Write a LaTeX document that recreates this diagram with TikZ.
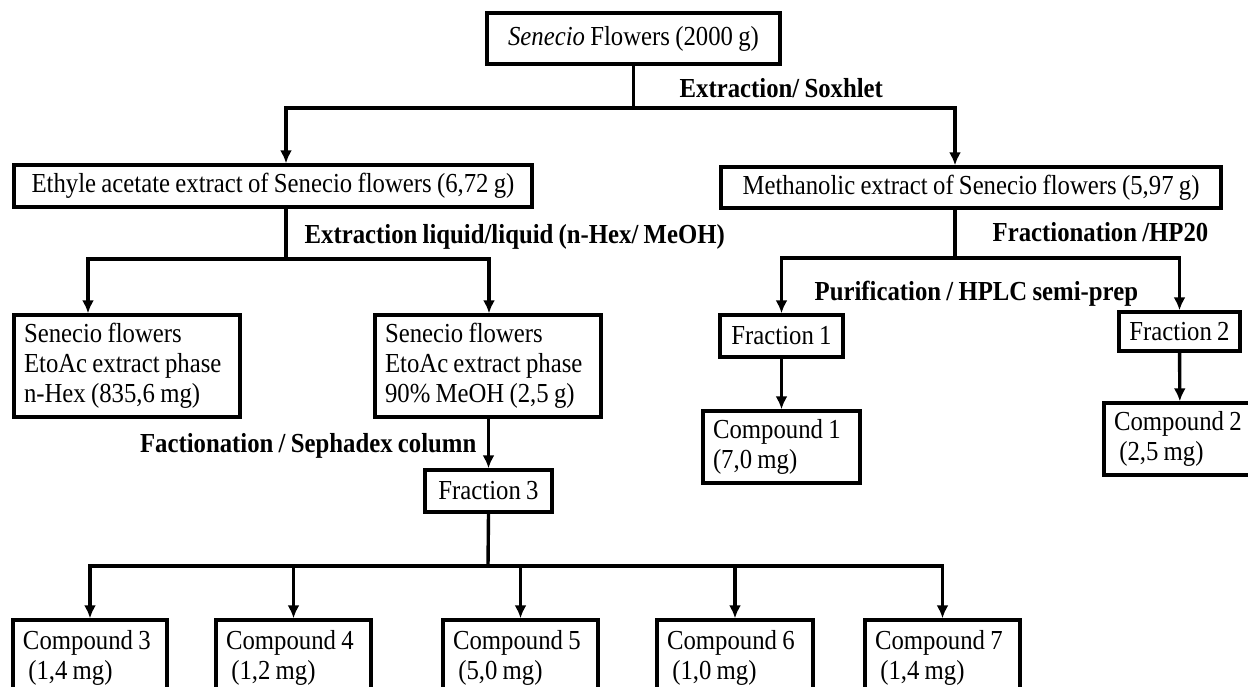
\documentclass[tikz,border=0pt]{standalone}
\usepackage{fontspec}
\setmainfont{Liberation Serif}[FakeStretch=0.9, WordSpace=0.85]
\usetikzlibrary{arrows.meta}

\begin{document}
\begin{tikzpicture}[x=1pt, y=-1pt, line width=3.4pt, >={Latex[length=13pt,width=12pt]},
        box/.style={draw, inner xsep=10pt, inner ysep=0pt, font=\fontsize{27.5}{30}\selectfont},
        lbox/.style={box, align=flush left},
        step label/.style={inner sep=0pt, font=\fontsize{27.5}{30}\selectfont\bfseries}]
    \useasboundingbox (0,0) rectangle (1248,686);
    \clip (0,0) rectangle (1248,686);

    % extracts
    \node[box, minimum width=293pt, minimum height=51pt] (flw) at (633.5,38.5) {\textit{Senecio} Flowers (2000 g)};
    \node[box, minimum width=518pt, minimum height=42pt] (eth) at (273,186) {Ethyle acetate extract of Senecio flowers (6,72 g)};
    \node[box, minimum width=500pt, minimum height=41pt] (meth) at (971,187.5) {Methanolic extract of Senecio flowers (5,97 g)};

    % phases of the ethyl acetate extract
    \node[lbox, text width=206pt, minimum height=102pt] (hex) at (127,366) {Senecio flowers\\EtoAc extract phase\\n-Hex (835,6 mg)};
    \node[lbox, text width=206pt, minimum height=102pt] (meoh) at (488,366) {Senecio flowers\\EtoAc extract phase\\90\% MeOH (2,5 g)};

    % fractions
    \node[box, minimum width=123pt, minimum height=42pt] (fr1) at (781.5,336) {Fraction 1};
    \node[box, minimum width=121pt, minimum height=39pt] (fr2) at (1179.5,331.5) {Fraction 2};
    \node[box, minimum width=127pt, minimum height=42pt] (fr3) at (488.5,491) {Fraction 3};

    % compounds
    \node[lbox, text width=137pt, minimum height=72pt] (cp1) at (781.5,447) {Compound 1\\(7,0 mg)};
    \node[lbox, text width=132pt, minimum height=72pt] (cp2) at (1180,439) {Compound 2\\~(2,5 mg)};
    \node[lbox, text width=134pt, minimum height=75pt] (cp3) at (90,657.5) {Compound 3\\~(1,4 mg)};
    \node[lbox, text width=135pt, minimum height=75pt] (cp4) at (293.5,657.5) {Compound 4\\~(1,2 mg)};
    \node[lbox, text width=135pt, minimum height=75pt] (cp5) at (520.5,657.5) {Compound 5\\~(5,0 mg)};
    \node[lbox, text width=136pt, minimum height=75pt] (cp6) at (735,657.5) {Compound 6\\~(1,0 mg)};
    \node[lbox, text width=135pt, minimum height=75pt] (cp7) at (942.5,657.5) {Compound 7\\~(1,4 mg)};

    % step labels
    \node[step label, anchor=west] (sox) at (678,88) {Extraction/ Soxhlet};
    \node[step label, anchor=west] (lle) at (303,237) {Extraction liquid/liquid (n-Hex/ MeOH)};
    \node[step label, anchor=west] (hp20) at (991,232) {Fractionation /HP20};
    \node[step label, anchor=west] (hplc) at (813,294) {Purification / HPLC semi-prep};
    \node[step label, anchor=east] (seph) at (478,446) {Factionation / Sephadex column};

    % branch points
    \coordinate (k1) at (286,108);
    \coordinate (k2) at (955,108);
    \coordinate (m1) at (88,259);
    \coordinate (m2) at (489,259);
    \coordinate (n0) at (955,258);
    \coordinate (q0) at (488,566);

    \draw (flw.south) -- (flw.south |- k1);
    \draw[<->] (k1 |- eth.north) -- (k1) -- (k2) -- (k2 |- meth.north);

    \draw (k1 |- eth.south) -- (k1 |- m1);
    \draw[<->] (m1 |- hex.north) -- (m1) -- (m2) -- (m2 |- meoh.north);

    \draw (k2 |- meth.south) -- (n0);
    \draw[<->] (fr1.north) |- (n0) -| (fr2.north);
    \draw[->] (fr1) -- (cp1);
    \draw[->] (fr2) -- (cp2);

    \draw[->] (meoh.south -| fr3.north) -- (fr3.north);
    \draw (fr3.south) -- (q0);
    \draw[<->] (cp3.north) |- (q0) -| (cp7.north);
    \foreach \c in {cp4,cp5,cp6}
        \draw[->] (\c.north |- q0) -- (\c.north);
\end{tikzpicture}
\end{document}
